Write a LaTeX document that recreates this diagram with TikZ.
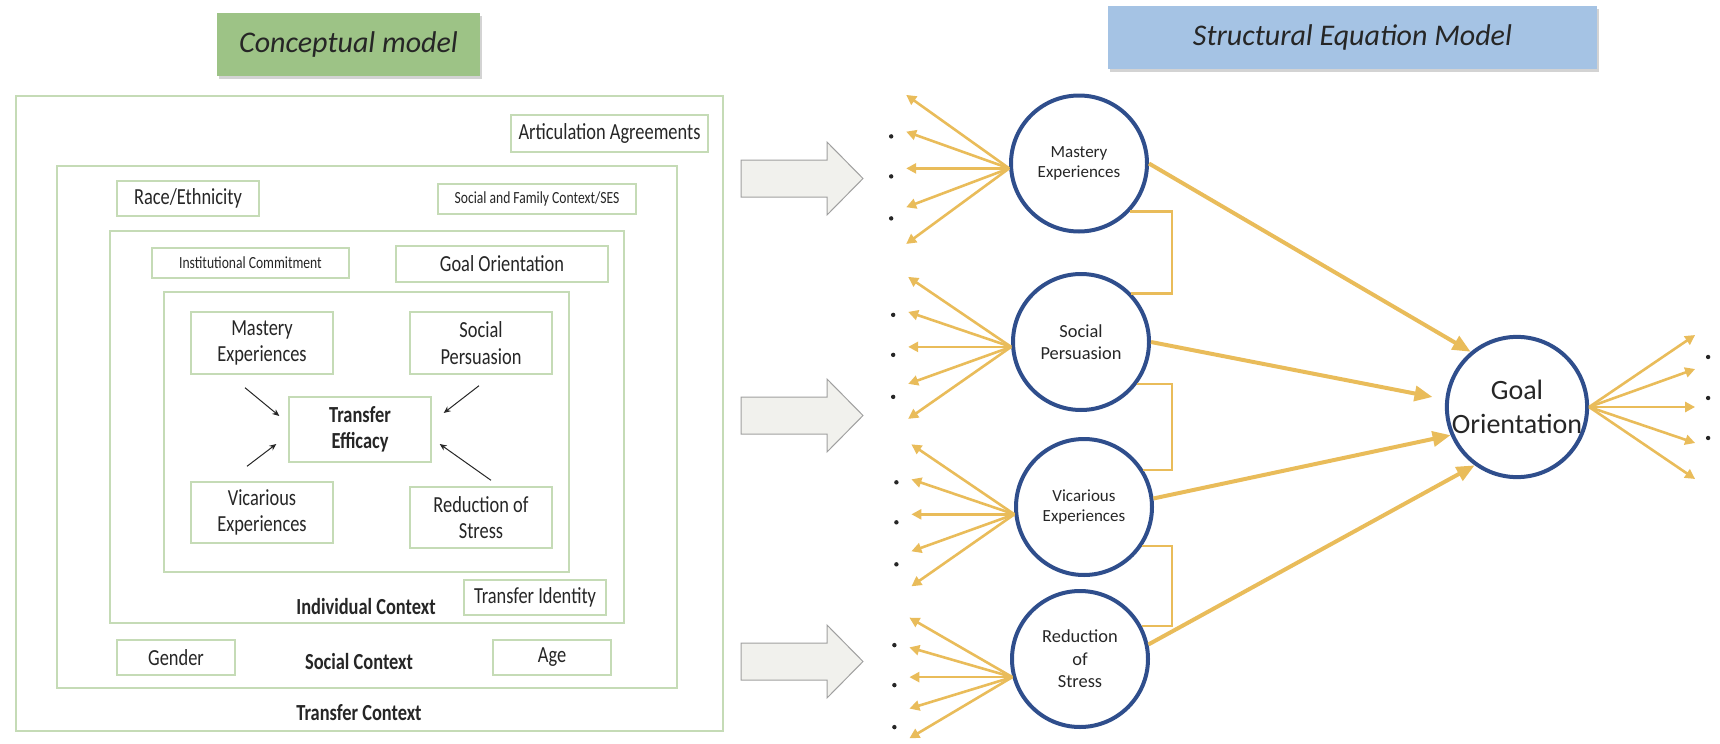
\documentclass[tikz,border=0pt]{standalone}
\usepackage{fontspec}
\setmainfont{Carlito}
\newfontfamily\condfont[FakeStretch=0.8]{Carlito}
\usetikzlibrary{arrows.meta,calc,shadows}
\definecolor{boxgreen}{HTML}{C5DBB6}
\definecolor{headgreen}{HTML}{9DC386}
\definecolor{headblue}{HTML}{A5C3E4}
\definecolor{semblue}{HTML}{2F4E8C}
\definecolor{gold}{HTML}{E9BC5A}
\definecolor{txt}{HTML}{262626}
\definecolor{arrgray}{HTML}{F1F1ED}
\definecolor{arredge}{HTML}{A0A0A0}
\tikzset{
  ctx/.style={draw=boxgreen, line width=0.9pt},
  cbox/.style={draw=boxgreen, line width=0.7pt, fill=white, inner sep=0pt, align=center, text=txt,
    font=\condfont\fontsize{11.5}{13.3}\selectfont},
  sbox/.style={cbox, font=\condfont\fontsize{8.5}{10}\selectfont},
  ctxlabel/.style={text=txt, font=\condfont\bfseries\fontsize{11.5}{13.3}\selectfont},
  header/.style={inner sep=0pt, text=txt, font=\itshape\fontsize{15}{18}\selectfont,
    drop shadow={shadow xshift=1.2pt, shadow yshift=-1.5pt, opacity=0.35}},
  efarr/.style={-{Stealth[length=3.5pt,width=3pt]}, line width=0.5pt, draw=txt},
  latent/.style={circle, draw=semblue, line width=2pt, inner sep=0pt, minimum size=68pt, align=center, text=txt},
  indarr/.style={gold, line width=1.3pt, -{Triangle[length=5pt,width=5pt]}},
  patharr/.style={gold, line width=2pt, -{Triangle[length=9pt,width=7.5pt]}},
  covline/.style={gold, line width=1.3pt},
  blockarr/.style={fill=arrgray, draw=arredge, line width=0.5pt},
}
\begin{document}
\begin{tikzpicture}[x=0.5pt, y=-0.5pt]
  \useasboundingbox (0,0) rectangle (1720,744);
  % headers
  \node[header, fill=headgreen, minimum width=131.5pt, minimum height=31.5pt] (cmhead) at (348.5,44.5) {Conceptual model};
  \node[header, fill=headblue, minimum width=244.5pt, minimum height=31.5pt] (semhead) at (1352.5,37.5) {Structural Equation Model};

  % conceptual model: nested contexts
  \draw[ctx] (16,96) rectangle (723,731);
  \draw[ctx] (57,166) rectangle (677,688);
  \draw[ctx] (110,231) rectangle (624,623);
  \draw[ctx] (164,292) rectangle (569,572);

  \node[cbox, minimum width=98.5pt, minimum height=18.5pt] (artic) at (609.5,133.5) {Articulation Agreements};
  \node[cbox, minimum width=71pt, minimum height=17.5pt] (race) at (188,198.5) {Race/Ethnicity};
  \node[sbox, minimum width=99pt, minimum height=15pt] (sfc) at (537,199) {Social and Family Context/SES};
  \node[sbox, minimum width=98.5pt, minimum height=15pt] (inst) at (250.5,263) {Institutional Commitment};
  \node[cbox, minimum width=106pt, minimum height=18pt] (goalbox) at (502,264) {Goal Orientation};
  \node[cbox, minimum width=71pt, minimum height=31pt] (mastbox) at (262,343) {Mastery\\Experiences};
  \node[cbox, minimum width=71pt, minimum height=31pt] (persbox) at (481,343) {Social\\Persuasion};
  \node[cbox, minimum width=71pt, minimum height=32.5pt, font=\condfont\bfseries\fontsize{11.5}{13.3}\selectfont] (effbox) at (360,429.5) {Transfer\\Efficacy};
  \node[cbox, minimum width=71pt, minimum height=30.5pt] (vicbox) at (262,512.5) {Vicarious\\Experiences};
  \node[cbox, minimum width=71pt, minimum height=30.5pt] (redbox) at (481,517.5) {Reduction of\\Stress};
  \node[cbox, minimum width=71pt, minimum height=17.5pt] (tidbox) at (535,597.5) {Transfer Identity};
  \node[cbox, minimum width=59pt, minimum height=17.5pt] (gender) at (176,657.5) {Gender};
  \node[cbox, minimum width=59pt, minimum height=17.5pt] (age) at (552,657.5) {Age};

  \node[ctxlabel] (indlab) at (366,607) {Individual Context};
  \node[ctxlabel] (soclab) at (359,662) {Social Context};
  \node[ctxlabel] (trlab) at (359,713) {Transfer Context};

  \draw[efarr] ($(mastbox.south)+(-17,13)$) -- ($(effbox.west)+(-9,-13.5)$);
  \draw[efarr] ($(persbox.south)+(-2,11)$) -- ($(effbox.east)+(12,-16.5)$);
  \draw[efarr] ($(vicbox.north)+(-15,-15)$) -- ($(effbox.west)+(-12,14.5)$);
  \draw[efarr] ($(redbox.north)+(10,-6)$) -- ($(effbox.east)+(8,14.5)$);

  % block arrows
  \foreach \yc in {178.5,415.5,661.5}
    \draw[blockarr] (741,\yc-18.5) -- (827,\yc-18.5) -- (827,\yc-36.5) -- (863,\yc)
      -- (827,\yc+36.5) -- (827,\yc+18.5) -- (741,\yc+18.5) -- cycle;

  % structural equation model
  \node[latent, font=\fontsize{8.5}{10}\selectfont] (me) at (1079,163.5) {Mastery\\Experiences};
  \node[latent, font=\fontsize{9.2}{11.2}\selectfont] (sp) at (1081,342) {Social\\Persuasion};
  \node[latent, font=\fontsize{8.5}{10}\selectfont] (ve) at (1084,507) {Vicarious\\Experiences};
  \node[latent, font=\fontsize{9.2}{11.2}\selectfont] (rs) at (1080,659) {Reduction\\of\\Stress};
  \node[latent, minimum size=70pt, font=\fontsize{14}{16.7}\selectfont] (go) at (1517,407) {Goal\\Orientation};

  \foreach \c/\a/\s in {me/184/1.05, sp/184/1, ve/186/1, rs/195/0.85}{
    \foreach \dy [count=\i, evaluate=\dy as \ddy using \s*\dy] in {-70,-35,0,37,72}{
      \coordinate (\c-tip\i) at ($(\c.\a)+(-103,\ddy)$);
      \draw[indarr] (\c.\a) -- (\c-tip\i);
    }
    \foreach \dy in {-32,8,50}
      \fill[txt] ($(\c.\a)+(-118,\dy)$) circle (1.1pt);
  }
  \foreach \dy [count=\i] in {-72,-38,0,36,72}{
    \coordinate (go-tip\i) at ($(go.east)+(106,\dy)$);
    \draw[indarr] (go.east) -- (go-tip\i);
  }
  \foreach \dy in {-50,-9,31}
    \fill[txt] ($(go.east)+(119,\dy)$) circle (1.1pt);

  \draw[patharr] (me.east) -- (go.130);
  \draw[patharr, shorten >=6.5pt] (sp.east) -- (go.174);
  \draw[patharr] (ve.7) -- (go.203);
  \draw[patharr] (rs.12) -- (go.234);

  \coordinate (brk) at (1172,0);
  \draw[covline] (me.-43) -- (me.-43 -| brk) -- (sp.44 -| brk) -- (sp.44);
  \draw[covline] (sp.-37) -- (sp.-37 -| brk) -- (ve.32 -| brk) -- (ve.32);
  \draw[covline] (ve.-34) -- (ve.-34 -| brk) -- (rs.28 -| brk) -- (rs.28);
\end{tikzpicture}
\end{document}
